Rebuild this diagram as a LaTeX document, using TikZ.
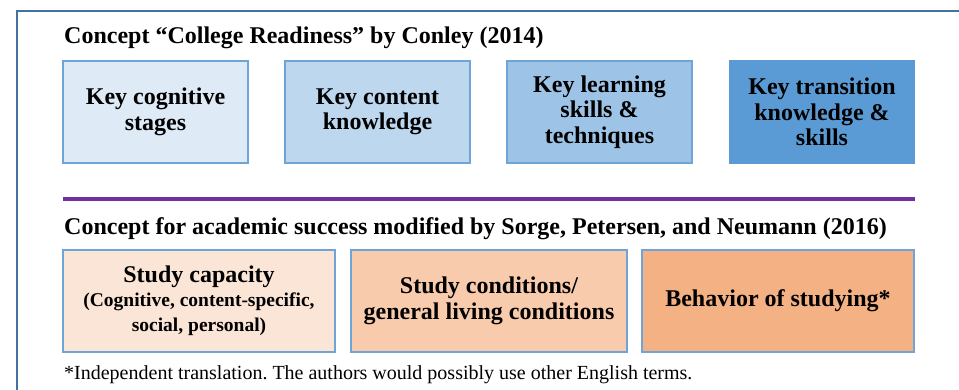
\documentclass[tikz,border=0pt]{standalone}
\usepackage{fontspec}
\setmainfont{Liberation Serif}
\usepackage{tikz}
\usetikzlibrary{positioning}
\frenchspacing

\definecolor{framecol}{RGB}{68,114,160}
\definecolor{edgecol}{RGB}{112,163,216}
\definecolor{blueA}{RGB}{222,234,246}
\definecolor{blueB}{RGB}{189,215,238}
\definecolor{blueC}{RGB}{157,195,230}
\definecolor{blueD}{RGB}{91,155,213}
\definecolor{peachA}{RGB}{251,229,214}
\definecolor{peachB}{RGB}{248,203,173}
\definecolor{peachC}{RGB}{244,177,131}
\definecolor{linepurple}{RGB}{112,48,160}

\tikzset{
	conbox/.style={draw=edgecol, line width=1.5pt, align=flush center, minimum height=102pt, inner sep=0pt, font=\fontsize{24}{25.5}\selectfont\bfseries},
	topbox/.style={conbox, minimum width=185pt, text width=179pt},
	lowbox/.style={conbox, minimum width=272pt, text width=266pt},
	heading/.style={anchor=base west, inner sep=0pt, font=\fontsize{24}{28}\selectfont\bfseries},
	note/.style={anchor=base west, inner sep=0pt, font=\fontsize{20}{24}\selectfont},
}

\begin{document}
\begin{tikzpicture}[x=1pt, y=-1pt]
				% Frame and page:
				\clip (0,0) rectangle (959,390);
				\draw[framecol, line width=2.5pt] (17,11) rectangle (990,420);
				% Upper concept:
				\node[heading] (conley) at (64,44) {Concept “College Readiness” by Conley (2014)};
				\node[topbox, fill=blueA] (cognitive) at (155.5,112) {Key cognitive\\stages};
				\node[topbox, fill=blueB] (content) at (377.5,112) {Key content\\knowledge};
				\node[topbox, fill=blueC] (learning) at (599.5,112) {Key learning\\skills \&\\techniques};
				\node[topbox, fill=blueD, draw=blueD] (transition) at (822,112) {Key transition\\knowledge \&\\skills};
				% Separator:
				\coordinate (sepL) at (63,199);
				\coordinate (sepR) at (915,199);
				\draw[linepurple, line width=4pt] (sepL) -- (sepR);
				% Lower concept:
				\node[heading] (sorge) at (64,235) {Concept for academic success modified by Sorge, Petersen, and Neumann (2016)};
				\node[lowbox, fill=peachA] (capacity) at (199,301) {Study capacity\\[3pt]\fontsize{19.5}{20.5}\selectfont(Cognitive, content-specific,\\social, personal)};
				\node[lowbox, fill=peachB, minimum width=276pt] (conditions) at (489,301) {Study conditions/\\general living conditions};
				\node[lowbox, fill=peachC] (behavior) at (778,301) {Behavior of studying*};
				\node[note] (footnote) at (64,379) {*Independent translation. The authors would possibly use other English terms.};
			\end{tikzpicture}
\end{document}
